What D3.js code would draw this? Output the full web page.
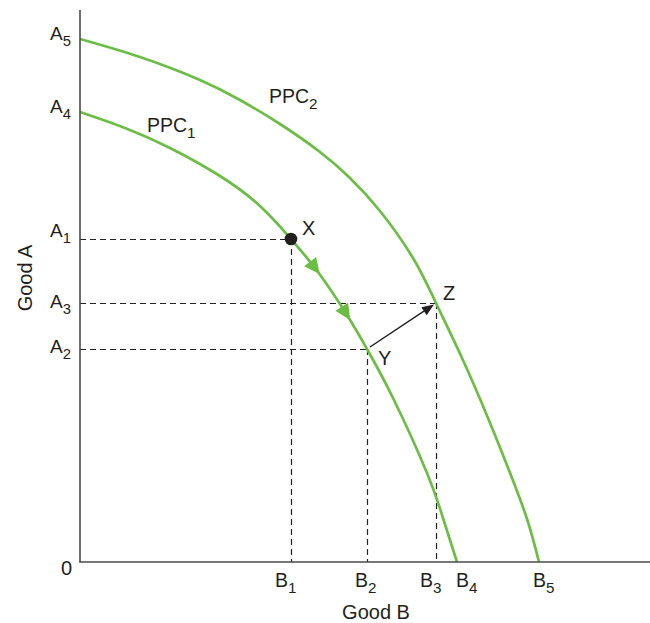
<!DOCTYPE html>
<html>
<head>
<meta charset="utf-8">
<script src="https://cdn.jsdelivr.net/npm/d3@7"></script>
<style>
  html, body { margin: 0; padding: 0; background: #fff; }
  svg text { font-family: "Liberation Sans", Arial, Helvetica, sans-serif; fill: #231f20; }
</style>
</head>
<body>
<svg id="chart" width="650" height="623"></svg>
<script>
// ---- Data (in chart units: Good B horizontally, Good A vertically) ----
const xTickLabels = ["B1", "B2", "B3", "B4", "B5"];
const xTickValues = [211, 287, 356, 377, 459];
const yTickLabels = ["A5", "A4", "A1", "A3", "A2"];
const yTickValues = [523, 450, 323, 259, 213];

// PPC1 (inner curve): [Good B, Good A]
const ppc1 = [[0,450],[45,434],[90,414],[140,386],[180,356],[211,323],[238,290],
              [267,247],[287,213],[313,164],[347,89],[363,44],[377,0]];
// PPC2 (outer curve)
const ppc2 = [[0,523],[60,505],[120,482],[160,462],[200,438],[240,410],[270,384],
              [300,351],[333,304],[356,259],[382,204],[408,144],[432,84],[448,40],[459,0]];

// Points
const pointX = [211, 323];
const pointY = [287, 213];
const pointZ = [356, 259];
// Green direction arrows on PPC1 (Good B positions)
const flowArrowsB = [235, 266];

// ---- Scales ----
const svg = d3.select("#chart");
const x = d3.scaleLinear().domain([0, 570]).range([80, 650]);
const y = d3.scaleLinear().domain([0, 552]).range([562, 10]);

const green = "#6cbd45";
const ink = "#231f20";
const axisCol = "#4a4a4a";

// ---- Dashed guide lines ----
const dash = "6,4";
const guides = [pointX, pointY, pointZ];
const gGuides = svg.append("g").attr("stroke", "#222").attr("stroke-width", 1.2)
  .attr("stroke-dasharray", dash).attr("fill", "none");
guides.forEach(p => {
  gGuides.append("line").attr("x1", x(0)).attr("x2", x(p[0])).attr("y1", y(p[1]) + 0.5).attr("y2", y(p[1]) + 0.5);
  gGuides.append("line").attr("x1", x(p[0]) + 0.5).attr("x2", x(p[0]) + 0.5).attr("y1", y(p[1])).attr("y2", y(0));
});

// ---- Curves ----
const line = d3.line().x(d => x(d[0])).y(d => y(d[1])).curve(d3.curveNatural);
const path1 = svg.append("path").datum(ppc1).attr("d", line)
  .attr("fill", "none").attr("stroke", green).attr("stroke-width", 2.7);
svg.append("path").datum(ppc2).attr("d", line)
  .attr("fill", "none").attr("stroke", green).attr("stroke-width", 2.7);

// ---- Axes ----
svg.append("line").attr("x1", x(0)).attr("x2", x(0)).attr("y1", y(552)).attr("y2", y(0))
  .attr("stroke", axisCol).attr("stroke-width", 1.6);
svg.append("line").attr("x1", x(0) - 0.8).attr("x2", x(570)).attr("y1", y(0)).attr("y2", y(0))
  .attr("stroke", axisCol).attr("stroke-width", 1.6);

// ---- Green flow arrows along PPC1 ----
const pnode = path1.node();
const total = pnode.getTotalLength();
function pointAtB(bVal) {
  const target = x(bVal);
  let lo = 0, hi = total;
  for (let i = 0; i < 40; i++) {
    const mid = (lo + hi) / 2;
    if (pnode.getPointAtLength(mid).x < target) lo = mid; else hi = mid;
  }
  return lo;
}
flowArrowsB.forEach(b => {
  const L = pointAtB(b);
  const p0 = pnode.getPointAtLength(L - 2), p1 = pnode.getPointAtLength(L + 2);
  const ang = Math.atan2(p1.y - p0.y, p1.x - p0.x) * 180 / Math.PI;
  const c = pnode.getPointAtLength(L);
  svg.append("path").attr("d", "M8,0 L-8,-7.5 L-8,7.5 Z")
    .attr("fill", green)
    .attr("transform", `translate(${c.x},${c.y}) rotate(${ang})`);
});

// ---- Arrow Y -> Z ----
const ax1 = x(pointY[0]) + 3, ay1 = y(pointY[1]) - 2;
const ax2 = x(pointZ[0]) - 2, ay2 = y(pointZ[1]) + 1.5;
const aAng = Math.atan2(ay2 - ay1, ax2 - ax1) * 180 / Math.PI;
svg.append("line").attr("x1", ax1).attr("y1", ay1)
  .attr("x2", ax2 - 8 * Math.cos(aAng * Math.PI / 180))
  .attr("y2", ay2 - 8 * Math.sin(aAng * Math.PI / 180))
  .attr("stroke", ink).attr("stroke-width", 1.5);
svg.append("path").attr("d", "M0,0 L-12,-4.8 L-12,4.8 Z").attr("fill", ink)
  .attr("transform", `translate(${ax2},${ay2}) rotate(${aAng})`);

// ---- Point X ----
svg.append("circle").attr("cx", x(pointX[0])).attr("cy", y(pointX[1])).attr("r", 6.3).attr("fill", ink);

// ---- Label helper with subscript ----
function subLabel(g, txt, px, py, size, anchor) {
  const t = g.append("text").attr("x", px).attr("y", py).attr("font-size", size)
    .attr("text-anchor", anchor || "start");
  t.append("tspan").text(txt.slice(0, -1));
  t.append("tspan").text(txt.slice(-1)).attr("font-size", size * 0.78).attr("dy", size * 0.3);
  return t;
}

// Y tick labels
const yLabelDy = [1, 1, -2, 5, 4];
yTickLabels.forEach((lab, i) => {
  subLabel(svg, lab, x(0) - 9, y(yTickValues[i]) + yLabelDy[i], 19, "end");
});
// X tick labels
const xLabelDx = [-16, -12, -16, -1, -6];
xTickLabels.forEach((lab, i) => {
  subLabel(svg, lab, x(xTickValues[i]) + xLabelDx[i], y(0) + 25, 19.5, "start");
});
// Origin
svg.append("text").attr("x", x(0) - 8).attr("y", y(0) + 13).attr("font-size", 20)
  .attr("text-anchor", "end").text("0");

// Axis titles
svg.append("text").attr("transform", `translate(32,278) rotate(-90)`)
  .attr("text-anchor", "middle").attr("font-size", 20).text("Good A");
svg.append("text").attr("x", 376).attr("y", y(0) + 57).attr("text-anchor", "middle")
  .attr("font-size", 20).text("Good B");

// Curve labels
subLabel(svg, "PPC1", x(67), y(430), 19.5, "start");
subLabel(svg, "PPC2", x(189), y(459), 19.5, "start");

// Point labels
svg.append("text").attr("x", x(pointX[0]) + 11).attr("y", y(pointX[1]) - 4).attr("font-size", 20).text("X");
svg.append("text").attr("x", x(pointY[0]) + 11).attr("y", y(pointY[1]) + 16).attr("font-size", 20).text("Y");
svg.append("text").attr("x", x(pointZ[0]) + 7).attr("y", y(pointZ[1]) - 3).attr("font-size", 20).text("Z");
</script>
</body>
</html>
